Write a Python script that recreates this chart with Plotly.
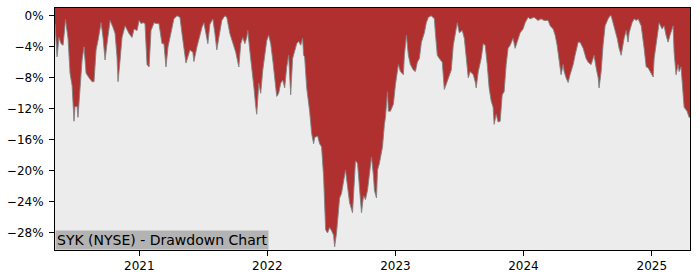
import plotly.graph_objects as go
import pandas as pd

# Time in decimal years
t_years = [
    2020.343, 2020.359, 2020.374, 2020.390, 2020.406, 2020.425, 2020.445, 2020.460, 2020.476, 2020.491,
    2020.499, 2020.515, 2020.522, 2020.538, 2020.554, 2020.569, 2020.577, 2020.585, 2020.608, 2020.632,
    2020.647, 2020.663, 2020.678, 2020.702, 2020.717, 2020.733, 2020.748, 2020.772, 2020.795, 2020.811,
    2020.826, 2020.834, 2020.850, 2020.865, 2020.889, 2020.904, 2020.920, 2020.943, 2020.959, 2020.982,
    2020.998, 2021.013, 2021.029, 2021.044, 2021.060, 2021.076, 2021.091, 2021.115, 2021.130, 2021.153,
    2021.177, 2021.192, 2021.208, 2021.224, 2021.247, 2021.270, 2021.294, 2021.317, 2021.333, 2021.348,
    2021.364, 2021.379, 2021.395, 2021.418, 2021.426, 2021.450, 2021.473, 2021.489, 2021.504, 2021.520,
    2021.535, 2021.551, 2021.574, 2021.590, 2021.605, 2021.621, 2021.644, 2021.668, 2021.683, 2021.707,
    2021.730, 2021.753, 2021.777, 2021.792, 2021.808, 2021.824, 2021.839, 2021.847, 2021.862, 2021.878,
    2021.894, 2021.909, 2021.917, 2021.933, 2021.948, 2021.964, 2021.979, 2021.995, 2022.010, 2022.026,
    2022.042, 2022.057, 2022.073, 2022.088, 2022.104, 2022.120, 2022.135, 2022.151, 2022.166, 2022.182,
    2022.197, 2022.229, 2022.244, 2022.260, 2022.275, 2022.283, 2022.291, 2022.307, 2022.330, 2022.346,
    2022.361, 2022.369, 2022.392, 2022.408, 2022.423, 2022.439, 2022.447, 2022.455, 2022.470, 2022.486,
    2022.501, 2022.517, 2022.525, 2022.540, 2022.556, 2022.564, 2022.579, 2022.595, 2022.610, 2022.626,
    2022.642, 2022.665, 2022.673, 2022.688, 2022.704, 2022.719, 2022.735, 2022.751, 2022.766, 2022.782,
    2022.797, 2022.813, 2022.829, 2022.836, 2022.852, 2022.860, 2022.875, 2022.899, 2022.914, 2022.922,
    2022.938, 2022.945, 2022.961, 2022.984, 2023.000, 2023.023, 2023.039, 2023.062, 2023.070, 2023.086,
    2023.101, 2023.117, 2023.140, 2023.156, 2023.171, 2023.187, 2023.203, 2023.226, 2023.241, 2023.257,
    2023.280, 2023.304, 2023.312, 2023.327, 2023.343, 2023.366, 2023.382, 2023.405, 2023.421, 2023.436,
    2023.452, 2023.483, 2023.499, 2023.522, 2023.538, 2023.553, 2023.569, 2023.584, 2023.608, 2023.623,
    2023.631, 2023.647, 2023.670, 2023.686, 2023.701, 2023.717, 2023.732, 2023.748, 2023.763, 2023.771,
    2023.787, 2023.802, 2023.818, 2023.834, 2023.849, 2023.865, 2023.880, 2023.896, 2023.919, 2023.935,
    2023.958, 2023.974, 2023.997, 2024.013, 2024.036, 2024.052, 2024.083, 2024.114, 2024.137, 2024.161,
    2024.192, 2024.208, 2024.231, 2024.247, 2024.262, 2024.278, 2024.293, 2024.309, 2024.317, 2024.332,
    2024.348, 2024.363, 2024.387, 2024.402, 2024.426, 2024.441, 2024.465, 2024.488, 2024.504, 2024.527,
    2024.550, 2024.566, 2024.582, 2024.589, 2024.605, 2024.620, 2024.636, 2024.659, 2024.675, 2024.683,
    2024.706, 2024.730, 2024.745, 2024.761, 2024.784, 2024.800, 2024.815, 2024.823, 2024.846, 2024.862,
    2024.878, 2024.893, 2024.917, 2024.932, 2024.940, 2024.956, 2024.971, 2024.987, 2025.010, 2025.018,
    2025.041, 2025.057, 2025.080, 2025.096, 2025.111, 2025.127, 2025.142, 2025.166, 2025.174, 2025.189,
    2025.205, 2025.213, 2025.228, 2025.244, 2025.252, 2025.275, 2025.291, 2025.298,
]

# Drawdown in percent
drawdown = [
    -1.0, -5.3, -2.8, -3.6, -3.8, -0.5, -3.0, -7.4, -9.0, -13.6,
    -11.7, -11.7, -13.1, -9.1, -5.7, -4.0, -5.3, -7.4, -8.0, -8.5,
    -8.5, -4.4, -3.2, -0.9, -2.8, -5.7, -3.6, -0.6, -1.5, -2.3,
    -5.3, -8.5, -5.7, -2.8, -1.3, -1.9, -2.3, -2.8, -1.7, -1.9,
    -0.6, -1.0, -0.9, -1.0, -6.3, -6.6, -1.9, -0.9, -1.0, -1.0,
    -3.6, -3.6, -6.6, -4.0, -2.3, -0.4, 0.0, -0.2, -2.3, -4.0,
    -6.1, -5.3, -4.4, -4.7, -5.9, -4.0, -2.3, -1.5, -0.9, -2.3,
    -3.6, -1.1, -0.4, -2.3, -4.4, -2.8, -0.6, 0.0, -0.2, -2.3,
    -3.6, -4.7, -6.6, -3.6, -2.8, -3.6, -2.8, -1.9, -4.4, -6.6,
    -9.1, -11.7, -12.7, -8.7, -10.0, -7.0, -4.9, -3.2, -2.5, -3.6,
    -5.7, -7.8, -10.4, -10.0, -8.7, -8.3, -9.3, -6.6, -5.1, -10.2,
    -5.5, -3.6, -3.3, -3.8, -2.9, -5.1, -5.3, -9.3, -12.3, -15.2,
    -16.5, -15.7, -15.5, -16.5, -16.9, -20.7, -25.0, -27.6, -28.0, -27.3,
    -27.7, -28.3, -29.8, -28.0, -25.0, -23.5, -22.9, -21.6, -19.9, -22.0,
    -24.1, -25.4, -22.5, -18.7, -19.0, -22.5, -25.4, -23.2, -23.7, -22.5,
    -20.7, -18.2, -20.7, -22.5, -23.5, -19.9, -19.0, -16.9, -14.0, -13.1,
    -9.8, -12.3, -12.3, -11.4, -8.9, -6.3, -7.2, -7.6, -5.1, -2.5,
    -5.1, -6.3, -7.0, -7.2, -6.0, -5.5, -3.4, -2.2, -0.9, -0.2,
    0.0, -0.4, -2.2, -5.1, -5.5, -6.0, -9.5, -8.5, -7.6, -7.0,
    -3.8, -0.9, -2.2, -1.9, -2.9, -5.1, -8.0, -7.2, -7.6, -8.5,
    -9.3, -7.2, -5.5, -3.6, -3.8, -6.3, -9.3, -11.0, -11.8, -14.0,
    -12.7, -13.7, -13.6, -10.2, -9.8, -6.3, -4.2, -3.8, -2.9, -4.2,
    -2.9, -2.2, -1.7, -0.9, -0.2, -0.4, -0.2, -0.6, -0.4, -0.6,
    -0.6, -1.3, -1.7, -2.5, -3.8, -5.5, -7.6, -6.3, -7.2, -8.0,
    -8.6, -7.6, -6.3, -5.1, -3.4, -3.4, -4.2, -5.5, -6.0, -6.3,
    -5.1, -6.7, -8.0, -9.3, -7.2, -3.8, -1.3, -0.4, 0.0, 0.0,
    -1.3, -2.9, -4.2, -5.1, -2.9, -1.9, -3.4, -2.2, -0.9, -0.4,
    -0.6, -0.4, -1.3, -2.9, -4.2, -6.6, -6.7, -7.2, -7.9, -5.5,
    -2.9, -0.9, -1.7, -1.3, -2.5, -3.4, -2.5, -1.3, -4.7, -7.6,
    -6.3, -7.2, -6.6, -9.8, -11.8, -12.3, -13.1, -13.1,
]

y_ticks = [0, -4, -8, -12, -16, -20, -24, -28]
x_tick_years = [2021, 2022, 2023, 2024, 2025]
title_text = "SYK (NYSE) - Drawdown Chart"


def to_datetime(y):
    yr = int(y)
    start = pd.Timestamp(year=yr, month=1, day=1)
    end = pd.Timestamp(year=yr + 1, month=1, day=1)
    return start + (end - start) * (y - yr)


dates = [to_datetime(v) for v in t_years]
y_top = 1.0
y_bottom = -30.2

fig = go.Figure()
fig.add_trace(go.Scatter(
    x=dates, y=[y_top + 5] * len(dates), mode="lines",
    line=dict(width=0, color="rgba(0,0,0,0)"), hoverinfo="skip", showlegend=False,
))
fig.add_trace(go.Scatter(
    x=dates, y=drawdown, mode="lines", fill="tonexty",
    fillcolor="#b03030", line=dict(color="rgba(130,130,130,0.9)", width=1),
    showlegend=False,
))

fig.update_layout(
    width=700, height=280,
    margin=dict(l=53, r=10, t=7, b=28),
    paper_bgcolor="white", plot_bgcolor="#ececec",
    font=dict(family="DejaVu Sans", size=12, color="black"),
    showlegend=False,
)
fig.update_xaxes(
    type="date",
    range=[dates[0], dates[-1]],
    tickvals=[pd.Timestamp(year=y, month=1, day=1) for y in x_tick_years],
    ticktext=[str(y) for y in x_tick_years],
    ticks="outside", ticklen=5, tickwidth=1, tickcolor="black",
    showgrid=False, zeroline=False,
    showline=True, linecolor="black", linewidth=1, mirror=True,
)
fig.update_yaxes(
    range=[y_bottom, y_top],
    tickvals=y_ticks,
    ticktext=[("\u2212" if v < 0 else "") + f"{abs(v)}%" for v in y_ticks],
    ticks="outside", ticklen=5, tickwidth=1, tickcolor="black",
    ticklabelstandoff=3,
    showgrid=False, zeroline=False,
    showline=True, linecolor="black", linewidth=1, mirror=True,
)
fig.add_annotation(
    text=title_text, xref="paper", yref="paper", x=0, y=0,
    xanchor="left", yanchor="bottom", showarrow=False,
    bgcolor="#b3b3b3", borderpad=1,
    font=dict(family="DejaVu Sans", size=14, color="black"),
)

fig.write_html("out.html")
